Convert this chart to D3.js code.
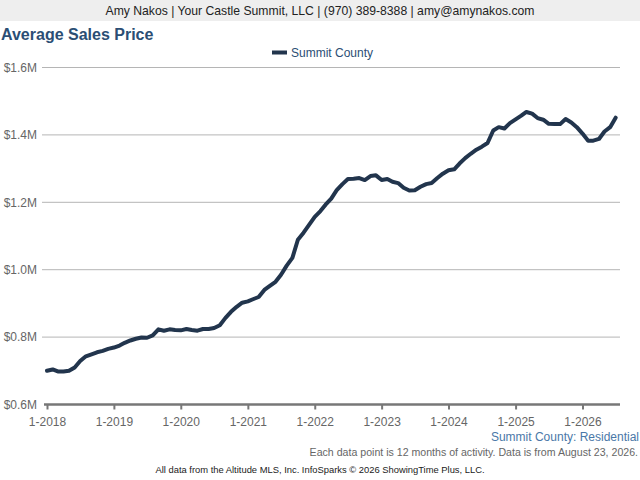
<!DOCTYPE html>
<html>
<head>
<meta charset="utf-8">
<script src="https://d3js.org/d3.v7.min.js"></script>
<style>
  body { margin: 0; background: #fff; }
  text { font-family: "Liberation Sans", Arial, sans-serif; }
</style>
</head>
<body>
<script>
//Data________________________________________________________________________________________________
var startYear = 2018;
var seriesName = "Summit County";
var prices = [
  0.700, 0.704, 0.698, 0.698, 0.700, 0.710, 0.729, 0.743, 0.749, 0.755, 0.759, 0.765,
  0.769, 0.775, 0.783, 0.790, 0.795, 0.799, 0.798, 0.805, 0.823, 0.819, 0.823, 0.821,
  0.820, 0.824, 0.821, 0.819, 0.824, 0.824, 0.827, 0.835, 0.857, 0.875, 0.890, 0.902,
  0.906, 0.913, 0.919, 0.940, 0.952, 0.964, 0.985, 1.012, 1.035, 1.089, 1.110, 1.133,
  1.157, 1.174, 1.193, 1.211, 1.236, 1.254, 1.269, 1.270, 1.272, 1.266, 1.278, 1.280,
  1.266, 1.269, 1.261, 1.257, 1.243, 1.235, 1.236, 1.246, 1.254, 1.257, 1.272, 1.285,
  1.295, 1.298, 1.315, 1.331, 1.344, 1.356, 1.365, 1.376, 1.413, 1.423, 1.419, 1.435,
  1.446, 1.457, 1.468, 1.463, 1.450, 1.445, 1.433, 1.432, 1.432, 1.447, 1.437, 1.423,
  1.404, 1.383, 1.383, 1.388, 1.410, 1.423, 1.451
];
var yTicks = [0.6, 0.8, 1.0, 1.2, 1.4, 1.6];
var xTickLabels = ["1-2018", "1-2019", "1-2020", "1-2021", "1-2022", "1-2023", "1-2024", "1-2025", "1-2026"];

var data = prices.map((v, i) => ({ date: new Date(startYear, i, 1), value: v }));

//Svg_________________________________________________________________________________________________
var W = 640, H = 480;
var margin = {top: 68, right: 20, bottom: 75, left: 47};

var svg = d3.select("body")
    .append("svg")
        .attr("width", W)
        .attr("height", H);

// header band
svg.append("rect")
    .attr("width", W)
    .attr("height", 21)
    .attr("fill", "#eeeeee");

svg.append("text")
    .attr("x", W / 2)
    .attr("y", 15)
    .attr("text-anchor", "middle")
    .attr("font-size", "12.2px")
    .attr("fill", "#222")
    .text("Amy Nakos | Your Castle Summit, LLC | (970) 389-8388 | amy@amynakos.com");

svg.append("text")
    .attr("x", 1)
    .attr("y", 40)
    .attr("font-size", "16px")
    .attr("font-weight", "bold")
    .attr("fill", "#2b4e74")
    .text("Average Sales Price");

//Scales______________________________________________________________________________________________
var x = d3.scaleTime()
    .domain([new Date(startYear, 0, 1), new Date(startYear, prices.length - 1, 1)])
    .range([margin.left, margin.left + 5.575 * (prices.length - 1)]);

var y = d3.scaleLinear()
    .domain([0.6, 1.6])
    .range([404.5, 67.5]);

var g = svg.append("g");

//Gridlines
g.selectAll("line.grid")
    .data(yTicks.slice(1))
    .enter()
    .append("line")
        .attr("class", "grid")
        .attr("x1", 42)
        .attr("x2", 620)
        .attr("y1", (d) => y(d))
        .attr("y2", (d) => y(d))
        .attr("stroke", "#b5b5b5")
        .attr("stroke-width", 1);

//Left axis labels
var leftAxis = d3.axisLeft(y)
    .tickValues(yTicks)
    .tickSize(0)
    .tickPadding(0)
    .tickFormat((d) => "$" + d3.format(".1f")(d) + "M");

g.append("g")
    .attr("class", "left axis")
    .attr("transform", "translate(37,0)")
    .call(leftAxis)
    .call((a) => a.select(".domain").remove())
    .selectAll("text")
        .attr("font-size", "12px")
        .attr("fill", "#666")
        .attr("font-family", "Liberation Sans, Arial, sans-serif");

//Bottom axis
var tickDates = xTickLabels.map((s) => new Date(+s.split("-")[1], 0, 1));
var bottomAxis = d3.axisBottom(x)
    .tickValues(tickDates)
    .tickSize(5)
    .tickPadding(8)
    .tickFormat((d, i) => xTickLabels[i]);

var ax = g.append("g")
    .attr("class", "bottom axis")
    .attr("transform", "translate(0," + y(0.6) + ")")
    .call(bottomAxis);

ax.select(".domain").remove();
ax.append("line")
    .attr("x1", 44)
    .attr("x2", 620)
    .attr("stroke", "#777")
    .attr("stroke-width", 2.5);
ax.selectAll(".tick line")
    .attr("stroke", "#777")
    .attr("stroke-width", 2);
ax.selectAll("text")
    .attr("font-size", "12px")
    .attr("fill", "#666")
    .attr("font-family", "Liberation Sans, Arial, sans-serif");

//Line________________________________________________________________________________________________
var line = d3.line()
    .x((d) => x(d.date))
    .y((d) => y(d.value));

g.append("path")
    .datum(data)
    .attr("fill", "none")
    .attr("stroke", "#22354d")
    .attr("stroke-width", 4)
    .attr("stroke-linejoin", "round")
    .attr("stroke-linecap", "round")
    .attr("d", line);

//Legend
svg.append("rect")
    .attr("x", 272)
    .attr("y", 50.5)
    .attr("width", 15)
    .attr("height", 4)
    .attr("fill", "#22354d");

svg.append("text")
    .attr("x", 291)
    .attr("y", 57)
    .attr("font-size", "12px")
    .attr("fill", "#2b4e74")
    .text(seriesName);

//Footer______________________________________________________________________________________________
svg.append("text")
    .attr("x", 639)
    .attr("y", 441)
    .attr("text-anchor", "end")
    .attr("font-size", "12px")
    .attr("fill", "#4a78a8")
    .text(seriesName + ": Residential");

svg.append("text")
    .attr("x", 638)
    .attr("y", 456)
    .attr("text-anchor", "end")
    .attr("font-size", "10.6px")
    .attr("fill", "#666")
    .text("Each data point is 12 months of activity. Data is from August 23, 2026.");

svg.append("text")
    .attr("x", 320)
    .attr("y", 473)
    .attr("text-anchor", "middle")
    .attr("font-size", "9.4px")
    .attr("fill", "#222")
    .text("All data from the Altitude MLS, Inc. InfoSparks \u00a9 2026 ShowingTime Plus, LLC.");
</script>
</body>
</html>
